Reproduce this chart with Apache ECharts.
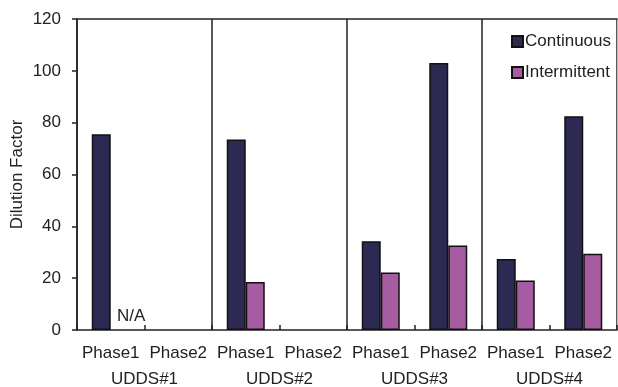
<!DOCTYPE html>
<html>
<head>
<meta charset="utf-8">
<script src="https://cdn.jsdelivr.net/npm/echarts@6/dist/echarts.min.js"></script>
<style>html,body{margin:0;padding:0;background:#fff}#c{width:618px;height:387px}</style>
</head>
<body>
<div id="c"></div>
<script>
const phases = ['Phase1','Phase2','Phase1','Phase2','Phase1','Phase2','Phase1','Phase2'];
const groups = ['UDDS#1','UDDS#2','UDDS#3','UDDS#4'];
const continuous = [75.5, null, 73.5, null, 34.2, 103.0, 27.4, 82.5];
const intermittent = [0, null, 18.5, null, 22.2, 32.6, 19.1, 29.4];
const naLabels = ['N/A', '', '', '', '', '', '', ''];
const yTicks = [0, 20, 40, 60, 80, 100, 120];

const FONT = 'Liberation Sans, Arial, sans-serif';
const TXT = '#222';
const FS = 17;

const interData = intermittent.map((v, i) => {
  if (naLabels[i]) {
    return { value: v, itemStyle: { borderWidth: 0 },
      label: { show: true, formatter: naLabels[i], position: 'top', offset: [11, 0],
        fontSize: FS, fontFamily: FONT, color: TXT } };
  }
  return v;
});

const chart = echarts.init(document.getElementById('c'), null, { renderer: 'canvas' });
chart.setOption({
  animation: false,
  backgroundColor: '#fff',
  grid: { left: 77, right: 1, top: 19, bottom: 57, containLabel: false, outerBoundsMode: 'none' },
  legend: {
    orient: 'vertical', left: 506, top: 28,
    itemWidth: 11, itemHeight: 11, itemGap: 14,
    icon: 'rect',
    textStyle: { fontSize: FS, fontFamily: FONT, color: TXT, padding: [0, 0, 0, -3] },
    data: ['Continuous', 'Intermittent']
  },
  xAxis: [
    {
      type: 'category', data: phases, position: 'bottom',
      axisLine: { lineStyle: { color: '#222', width: 1.5 } },
      axisTick: { show: true, inside: true, length: 5, interval: 0, lineStyle: { color: '#222', width: 1.5 } },
      axisLabel: { interval: 0, margin: 15, fontSize: FS, fontFamily: FONT, color: TXT },
      splitLine: { show: false }
    },
    {
      type: 'category', data: groups, position: 'bottom', offset: 26,
      axisLine: { show: false },
      axisTick: { show: false },
      axisLabel: { interval: 0, margin: 15, fontSize: FS, fontFamily: FONT, color: TXT },
      splitLine: { show: true, interval: 0, lineStyle: { color: '#222', width: 1.5 } }
    },
    {
      type: 'category', data: groups, position: 'top',
      axisLine: { lineStyle: { color: '#222', width: 1.5 } },
      axisTick: { show: false }, axisLabel: { show: false }, splitLine: { show: false }
    }
  ],
  yAxis: [
    {
      type: 'value', min: yTicks[0], max: yTicks[yTicks.length - 1], interval: 20,
      name: 'Dilution Factor', nameLocation: 'middle', nameGap: 51, nameMoveOverlap: false,
      nameTextStyle: { fontSize: FS, fontFamily: FONT, color: TXT },
      axisLine: { show: true, lineStyle: { color: '#222', width: 1.5 } },
      axisTick: { show: true, length: 5, lineStyle: { color: '#222', width: 1.5 } },
      axisLabel: { margin: 16, fontSize: FS, fontFamily: FONT, color: TXT },
      splitLine: { show: false }
    },
    {
      type: 'value', position: 'right', min: yTicks[0], max: yTicks[yTicks.length - 1], interval: 20,
      axisLine: { show: true, lineStyle: { color: '#bbb', width: 1 } },
      axisTick: { show: false }, axisLabel: { show: false }, splitLine: { show: false }
    }
  ],
  series: [
    {
      name: 'Continuous', type: 'bar', data: continuous, xAxisIndex: 0, yAxisIndex: 0,
      barWidth: 19, barGap: '0%',
      itemStyle: { color: '#2c2a52', borderColor: '#111', borderWidth: 1.5 }
    },
    {
      name: 'Intermittent', type: 'bar', data: interData, xAxisIndex: 0, yAxisIndex: 0,
      barWidth: 19, barGap: '0%',
      itemStyle: { color: '#a65ca0', borderColor: '#111', borderWidth: 1.5 }
    }
  ]
});
</script>
</body>
</html>
